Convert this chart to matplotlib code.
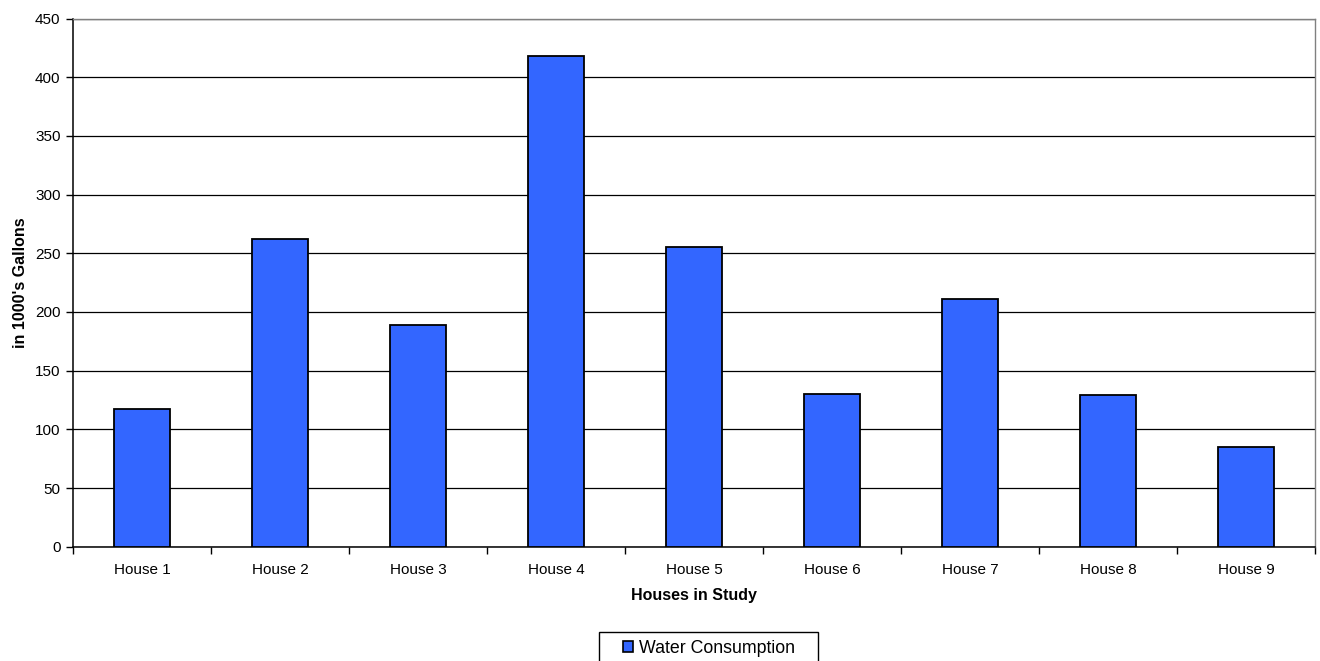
import numpy as np
import matplotlib
matplotlib.use("Agg")
import matplotlib.pyplot as plt
from matplotlib.patches import Rectangle

plt.rcParams['font.family'] = ['Liberation Sans', 'DejaVu Sans']

# data
houses = ["House 1", "House 2", "House 3", "House 4", "House 5",
          "House 6", "House 7", "House 8", "House 9"]
consumption = [117, 262, 189, 418, 255, 130, 211, 129, 85]
y_ticks = [0, 50, 100, 150, 200, 250, 300, 350, 400, 450]

W, H = 1320, 661
fig = plt.figure(figsize=(W / 100, H / 100), dpi=100)
# plot area in pixels: left 73, right 1315, top 18.5, bottom 546.7
ax = fig.add_axes([73 / W, 1 - 546.7 / H, (1315 - 73) / W, (546.7 - 18.5) / H])

x = np.arange(len(houses))
ax.bar(x, consumption, width=0.4, color="#3366FF", edgecolor="black",
       linewidth=1.3, label="Water Consumption", zorder=3)

ax.set_xlim(-0.5, len(houses) - 0.5)
ax.set_ylim(0, 450)
ax.set_yticks(y_ticks)
ax.yaxis.grid(True, color="black", linewidth=0.9, zorder=0)

# category labels centred, tick marks on the boundaries
ax.set_xticks(x)
ax.set_xticklabels(houses)
ax.tick_params(axis="x", which="major", length=0, pad=12, labelsize=11)
ax.set_xticks(np.arange(len(houses) + 1) - 0.5, minor=True)
ax.tick_params(axis="x", which="minor", length=5, width=1, direction="out")
ax.tick_params(axis="y", length=5, width=1, direction="out", labelsize=11, pad=4)

for side in ["left", "bottom"]:
    ax.spines[side].set_color("black")
    ax.spines[side].set_linewidth(1.1)
for side in ["top", "right"]:
    ax.spines[side].set_color("#808080")
    ax.spines[side].set_linewidth(1)

ax.set_xlabel("Houses in Study", fontweight="bold", fontsize=11.5, labelpad=8)
ax.set_ylabel("in 1000's Gallons", fontweight="bold", fontsize=11.5, labelpad=5)

# legend: frameless entries plus an Excel-style box running off the bottom edge
leg = fig.legend(loc="upper center", bbox_to_anchor=(709 / W, 1 - 640 / H),
                 fontsize=12.8, frameon=False,
                 handlelength=0.6, handleheight=0.6, handletextpad=0.35,
                 borderpad=0, borderaxespad=0)
for h in leg.legend_handles:
    h.set_linewidth(1.2)
fig.patches.append(Rectangle((599 / W, -0.05), (818 - 599) / W, 0.05 + (661 - 632) / H,
                             transform=fig.transFigure, fill=False,
                             edgecolor="black", linewidth=1))

fig.savefig("out.png", dpi=100)
